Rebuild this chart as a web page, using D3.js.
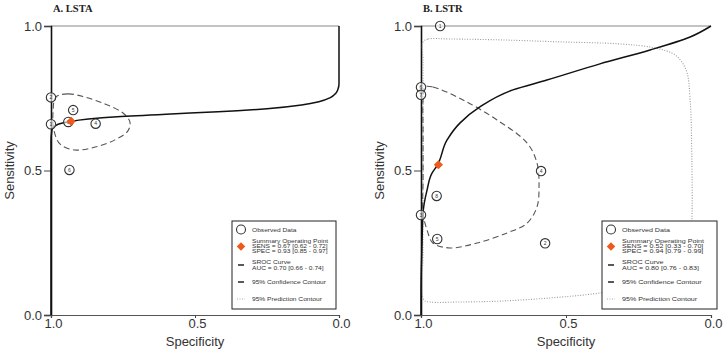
<!DOCTYPE html>
<html><head><meta charset="utf-8">
<script src="https://cdn.jsdelivr.net/npm/d3@7"></script>
<style>body{margin:0;background:#fff}svg{display:block}text{font-family:"Liberation Sans",Arial,sans-serif}</style>
</head><body><svg id="c" width="724" height="355"></svg>
<script>
// ---------- Panel A: LSTA ----------
const aTitle = "A. LSTA";
const aStudyId   = ["1","2","3","4","5","6"];
const aStudySpec = [1.0, 1.0, 0.94, 0.845, 0.923, 0.936];
const aStudySens = [0.66, 0.753, 0.668, 0.662, 0.709, 0.502];
const aSummarySpec = [0.93];
const aSummarySens = [0.67];
const aSrocSpec = [1.0, 1.0, 0.997, 0.985, 0.97, 0.937, 0.87, 0.77, 0.6, 0.42, 0.25, 0.13, 0.07, 0.03, 0.012, 0.004, 0.0, 0.0];
const aSrocSens = [0.0, 0.60, 0.64, 0.655, 0.662, 0.669, 0.678, 0.686, 0.695, 0.703, 0.714, 0.727, 0.738, 0.752, 0.766, 0.78, 0.80, 1.0];
const aConfSpec = [0.983, 0.941, 0.882, 0.8125, 0.75, 0.726, 0.733, 0.778, 0.847, 0.917, 0.969, 0.990, 0.993];
const aConfSens = [0.754, 0.765, 0.754, 0.730, 0.699, 0.668, 0.637, 0.606, 0.581, 0.571, 0.592, 0.640, 0.702];
const aLegend = ["Observed Data", "Summary Operating Point", "SENS = 0.67 [0.62 - 0.72]", "SPEC = 0.93 [0.85 - 0.97]",
                 "SROC Curve", "AUC = 0.70 [0.66 - 0.74]", "95% Confidence Contour", "95% Prediction Contour"];

// ---------- Panel B: LSTR ----------
const bTitle = "B. LSTR";
const bStudyId   = ["1","6","7","4","8","3","5","2"];
const bStudySpec = [0.934, 1.0, 1.0, 0.586, 0.946, 1.0, 0.944, 0.572];
const bStudySens = [1.0, 0.788, 0.762, 0.498, 0.412, 0.346, 0.263, 0.248];
const bSummarySpec = [0.94];
const bSummarySens = [0.52];
const bSrocSpec = [1.0, 1.0, 0.997, 0.993, 0.979, 0.962, 0.945, 0.910, 0.866, 0.797, 0.683, 0.566, 0.383, 0.210, 0.072, 0.0];
const bSrocSens = [0.0, 0.087, 0.225, 0.353, 0.433, 0.491, 0.516, 0.606, 0.664, 0.720, 0.779, 0.813, 0.869, 0.917, 0.962, 1.0];
const bConfSpec = [0.986, 0.959, 0.855, 0.738, 0.634, 0.600, 0.593, 0.600, 0.634, 0.703, 0.807, 0.900, 0.959, 0.979, 0.993, 0.993, 0.993, 0.993];
const bConfSens = [0.789, 0.789, 0.744, 0.675, 0.595, 0.526, 0.443, 0.374, 0.318, 0.284, 0.249, 0.232, 0.249, 0.294, 0.353, 0.467, 0.640, 0.744];
const bPredSpec = [0.993, 0.975, 0.9, 0.728, 0.521, 0.314, 0.193, 0.124, 0.086, 0.072, 0.066, 0.066, 0.072, 0.107, 0.21, 0.383, 0.555, 0.728, 0.866, 0.969, 0.990, 0.993, 0.993, 0.993];
const bPredSens = [0.945, 0.955, 0.955, 0.952, 0.945, 0.938, 0.924, 0.900, 0.848, 0.744, 0.536, 0.329, 0.260, 0.163, 0.107, 0.076, 0.059, 0.048, 0.045, 0.045, 0.052, 0.225, 0.571, 0.882];
const bLegend = ["Observed Data", "Summary Operating Point", "SENS = 0.52 [0.33 - 0.70]", "SPEC = 0.94 [0.79 - 0.99]",
                 "SROC Curve", "AUC = 0.80 [0.76 - 0.83]", "95% Confidence Contour", "95% Prediction Contour"];

const axisTicks = [0, 0.5, 1];
const xLabel = "Specificity", yLabel = "Sensitivity";

const zip = (a, b) => a.map((v, i) => [v, b[i]]);
const panels = [
  {title: aTitle, ids: aStudyId, studies: zip(aStudySpec, aStudySens), summary: zip(aSummarySpec, aSummarySens),
   sroc: zip(aSrocSpec, aSrocSens), conf: zip(aConfSpec, aConfSens), pred: null, legend: aLegend,
   x0: 51, x1: 339, leg: {x: 232, w: 104}},
  {title: bTitle, ids: bStudyId, studies: zip(bStudySpec, bStudySens), summary: zip(bSummarySpec, bSummarySens),
   sroc: zip(bSrocSpec, bSrocSens), conf: zip(bConfSpec, bConfSens), pred: zip(bPredSpec, bPredSens), legend: bLegend,
   x0: 421, x1: 711, leg: {x: 602, w: 115}}
];

const svg = d3.select("#c");
const yTop = 26, yBot = 315;
const diamond = d3.symbol().type(d3.symbolSquare);

panels.forEach(p => {
  const x = d3.scaleLinear().domain([1, 0]).range([p.x0, p.x1]);
  const y = d3.scaleLinear().domain([0, 1]).range([yBot, yTop]);
  const g = svg.append("g");

  g.append("text").attr("x", p.x0 + 2).attr("y", 11.5).text(p.title)
    .style("font-family", "'Liberation Serif','Times New Roman',serif").style("font-weight", "bold")
    .style("font-size", "10.5px").attr("fill", "#222");

  g.append("line").attr("x1", x(1)).attr("x2", x(0)).attr("y1", y(1)).attr("y2", y(1))
    .attr("stroke", "#888").attr("stroke-width", 1.2);

  const ay = g.append("g").attr("transform", `translate(${p.x0},0)`)
    .call(d3.axisLeft(y).tickValues(axisTicks).tickFormat(d3.format(".1f")).tickSize(7).tickPadding(2));
  ay.select(".domain").attr("stroke", "#111").attr("stroke-width", 1.6);
  ay.selectAll(".tick line").attr("stroke", "#444");
  ay.selectAll("text").style("font-size", "13px").attr("fill", "#333");

  const ax = g.append("g").attr("transform", `translate(0,${yBot})`)
    .call(d3.axisBottom(x).tickValues(axisTicks.slice().reverse()).tickFormat(d3.format(".1f")).tickSize(3).tickPadding(1));
  ax.select(".domain").attr("stroke", "#555").attr("stroke-width", 1.2);
  ax.selectAll(".tick line").attr("stroke", "#444");
  ax.selectAll("text").style("font-size", "13px").attr("fill", "#333").attr("dx", "2px");

  g.append("text").attr("x", (p.x0 + p.x1) / 2).attr("y", 346).attr("text-anchor", "middle")
    .style("font-size", "13px").attr("fill", "#333").text(xLabel);
  g.append("text").attr("transform", `translate(${p.x0 - 37},${(yTop + yBot) / 2}) rotate(-90)`)
    .attr("text-anchor", "middle").style("font-size", "13px").attr("fill", "#333").text(yLabel);

  const line = d3.line().x(d => x(d[0])).y(d => y(d[1])).curve(d3.curveMonotoneY);
  const closed = d3.line().x(d => x(d[0])).y(d => y(d[1])).curve(d3.curveCatmullRomClosed.alpha(0.5));

  if (p.pred) {
    g.append("path").attr("d", closed(p.pred)).attr("fill", "none")
      .attr("stroke", "#999").attr("stroke-width", 1.1).attr("stroke-dasharray", "1,1.6");
  }
  g.append("path").attr("d", closed(p.conf)).attr("fill", "none")
    .attr("stroke", "#555").attr("stroke-width", 1.1).attr("stroke-dasharray", "6,3.5");
  g.append("path").attr("d", line(p.sroc)).attr("fill", "none")
    .attr("stroke", "#111").attr("stroke-width", 1.5);

  const st = g.selectAll(".st").data(p.studies).enter().append("g")
    .attr("transform", d => `translate(${x(d[0])},${y(d[1])})`);
  st.append("circle").attr("r", 4.7).attr("fill", "#fff").attr("fill-opacity", 0.6)
    .attr("stroke", "#333").attr("stroke-width", 1.1);
  st.append("text").attr("text-anchor", "middle").attr("dy", "1.8px").style("font-size", "5px")
    .attr("fill", "#333").text((d, i) => p.ids[i]);

  g.selectAll(".sp").data(p.summary).enter().append("path")
    .attr("d", diamond.size(42)())
    .attr("transform", d => `translate(${x(d[0])},${y(d[1])}) rotate(45)`)
    .attr("fill", "#ec5a1c");

  const L = p.leg, lt = 221, lb = 309;
  const lg = g.append("g");
  lg.append("rect").attr("x", L.x).attr("y", lt).attr("width", L.w).attr("height", lb - lt)
    .attr("fill", "#fff").attr("stroke", "#222").attr("stroke-width", 1);
  const ix = L.x + 9, tx = L.x + 20;
  lg.append("circle").attr("cx", ix).attr("cy", 229.5).attr("r", 4.5).attr("fill", "none").attr("stroke", "#333").attr("stroke-width", 1.1);
  lg.append("path").attr("d", diamond.size(36)())
    .attr("transform", `translate(${ix},246.5) rotate(45)`).attr("fill", "#ec5a1c");
  lg.append("line").attr("x1", ix - 3).attr("x2", ix + 3).attr("y1", 265).attr("y2", 265).attr("stroke", "#222").attr("stroke-width", 1.5);
  lg.append("line").attr("x1", ix - 3).attr("x2", ix + 3).attr("y1", 282).attr("y2", 282).attr("stroke", "#222").attr("stroke-width", 1.5);
  lg.append("line").attr("x1", ix - 4).attr("x2", ix + 4).attr("y1", 299).attr("y2", 299).attr("stroke", "#aaa")
    .attr("stroke-width", 1).attr("stroke-dasharray", "1,1.5");
  const ly = [231.5, 242.6, 247.8, 253, 264, 269.5, 284, 301];
  const sx = p.x0 > 300 ? 1.4 : 1.3;
  p.legend.forEach((t, i) => {
    lg.append("text").attr("transform", `translate(${tx},${ly[i]}) scale(${sx},1)`)
      .style("font-size", "5.1px").attr("fill", "#333").text(t);
  });
});
</script></body></html>
